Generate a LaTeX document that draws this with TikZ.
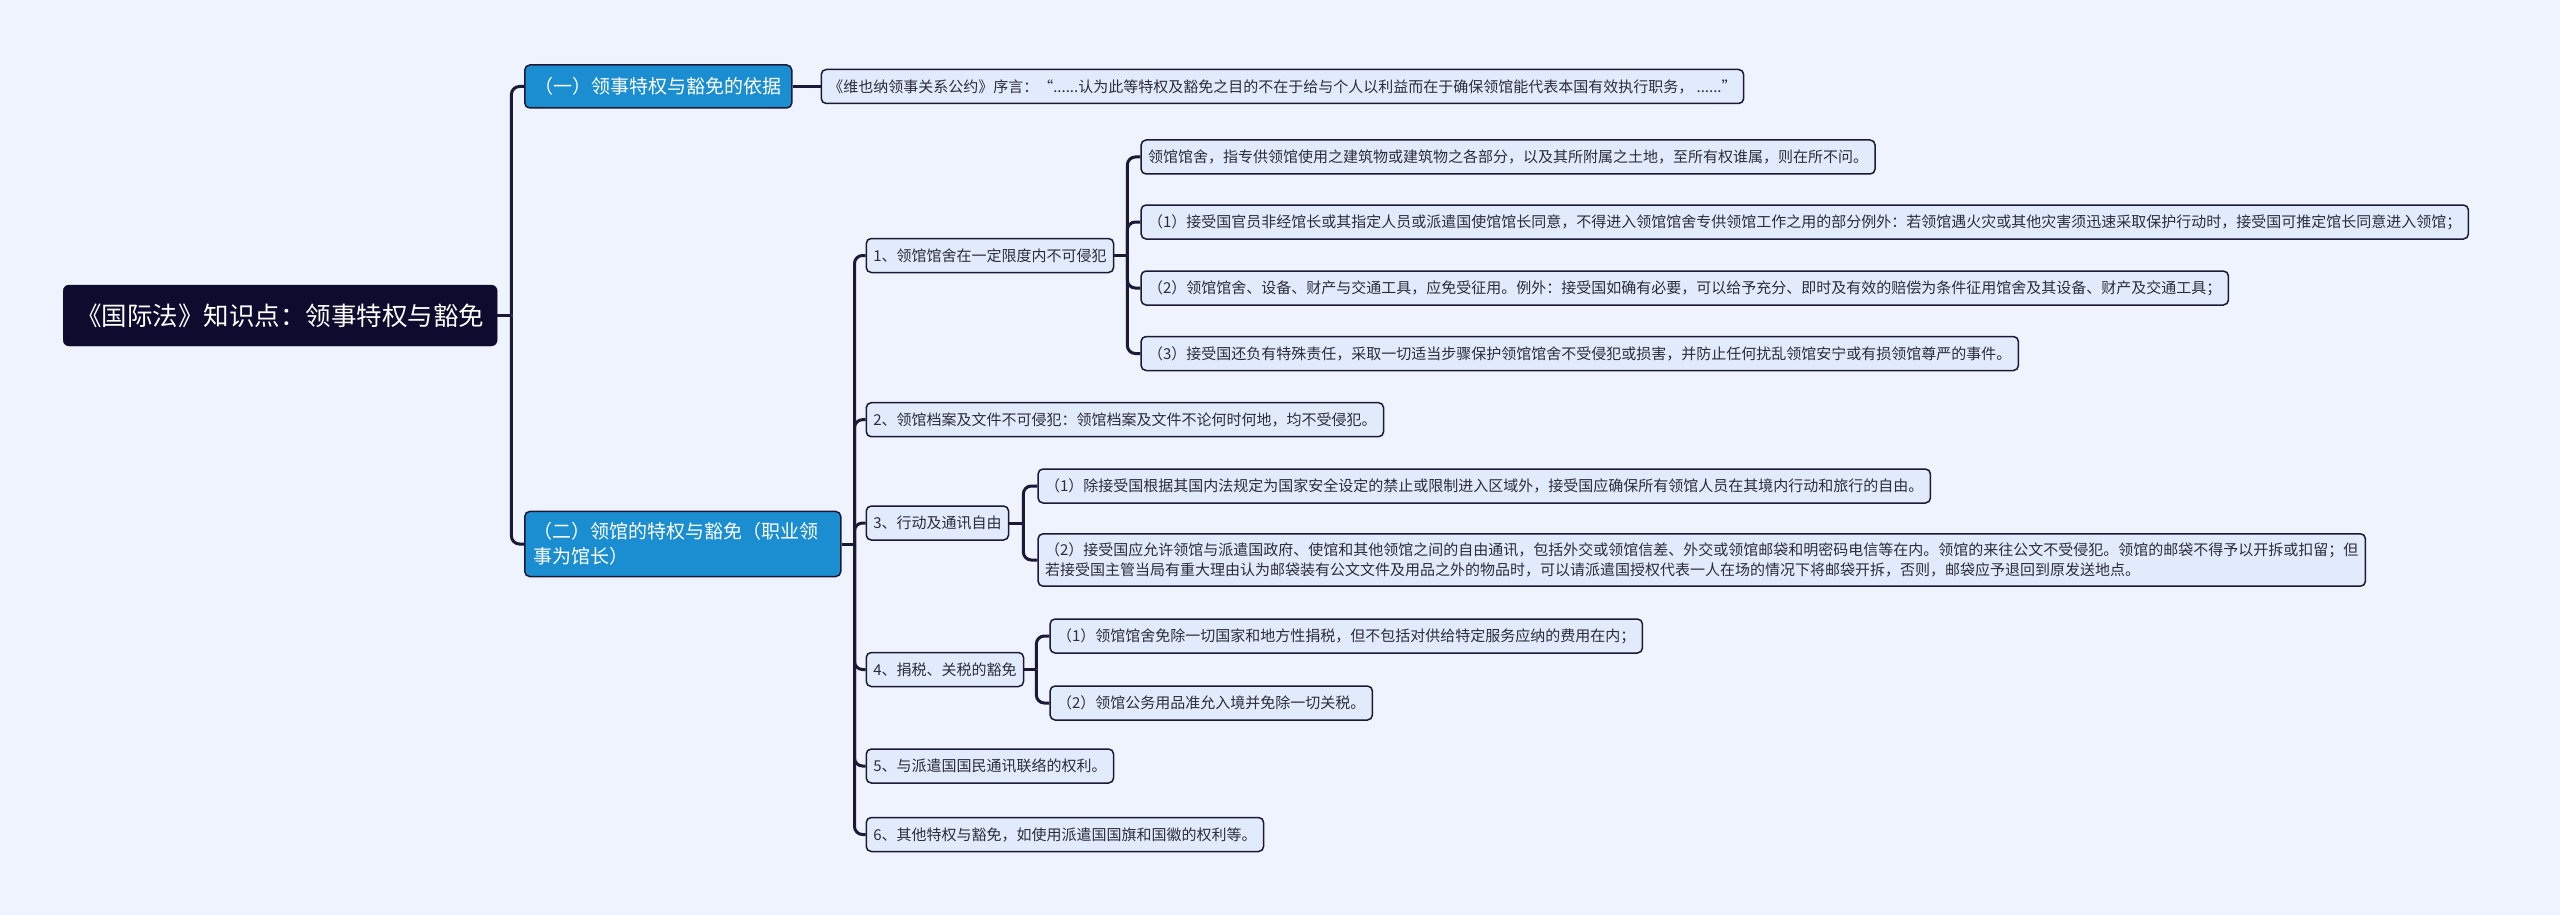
\documentclass[tikz,border=0pt]{standalone}
\usepackage{fontspec}
\setmainfont{Noto Sans CJK SC}
\definecolor{bgc}{HTML}{EEF3FD}
\definecolor{rootc}{HTML}{0E0B2E}
\definecolor{bluec}{HTML}{1B8ED1}
\definecolor{leafc}{HTML}{E2EBFB}
\definecolor{linec}{HTML}{1B1936}
\definecolor{textc}{HTML}{2C2C3C}
\tikzset{
  conn/.style={draw=linec, line width=3pt, rounded corners=8pt},
  rootbox/.style={fill=rootc, draw=rootc, rounded corners=6pt, text=white,
    font=\fontsize{25.5pt}{30pt}\selectfont, inner xsep=13pt, minimum height=61pt, anchor=west},
  lvlone/.style={fill=bluec, draw=linec, line width=1.5pt, rounded corners=5pt, text=white,
    font=\fontsize{19pt}{25pt}\selectfont, inner xsep=10pt, minimum height=43pt, anchor=west},
  leaf/.style={fill=leafc, draw=linec, line width=1.5pt, rounded corners=5pt, text=textc,
    font=\fontsize{15pt}{20pt}\selectfont, inner xsep=7pt, inner ysep=4pt, minimum height=34pt, anchor=west},
}
\begin{document}
\begin{tikzpicture}[x=1pt,y=1pt]
\useasboundingbox[fill=bgc] (0,0) rectangle (2560,-915);
% root
\node[rootbox] (root) at (63,-315.5) {《国际法》知识点：领事特权与豁免};
\node[lvlone] (a) at (524,-86.5) {（一）领事特权与豁免的依据};
\node[lvlone, align=left, text width=298pt, inner xsep=9pt, inner ysep=11pt] (b) at (524,-544) {（二）领馆的特权与豁免（职业领\\事为馆长）};
\coordinate (rj) at ([xshift=14pt]root.east);
\draw[conn] (root.east) -- (rj);
\draw[conn] (rj) |- (a.west);
\draw[conn] (rj) |- (b.west);
% A child
\node[leaf, xshift=28pt] (a1) at (a.east) {《维也纳领事关系公约》序言：“......认为此等特权及豁免之目的不在于给与个人以利益而在于确保领馆能代表本国有效执行职务， ......”};
\draw[conn] (a.east) -- (a1.west);
% B children
\node[leaf, xshift=24pt] (c1) at (b.east |- 0,-255.5) {1、领馆馆舍在一定限度内不可侵犯};
\node[leaf, xshift=24pt] (c2) at (b.east |- 0,-419.7) {2、领馆档案及文件不可侵犯：领馆档案及文件不论何时何地，均不受侵犯。};
\node[leaf, xshift=24pt] (c3) at (b.east |- 0,-523) {3、行动及通讯自由};
\node[leaf, xshift=24pt] (c4) at (b.east |- 0,-669.5) {4、捐税、关税的豁免};
\node[leaf, xshift=24pt] (c5) at (b.east |- 0,-766) {5、与派遣国国民通讯联络的权利。};
\node[leaf, xshift=24pt] (c6) at (b.east |- 0,-834.5) {6、其他特权与豁免，如使用派遣国国旗和国徽的权利等。};
\coordinate (bj) at ([xshift=13pt]b.east);
\draw[conn] (b.east) -- (bj);
\foreach \n in {c1,c2,c3,c4,c5,c6} \draw[conn] (bj) |- (\n.west);
% c1 children
\node[leaf, xshift=26pt] (d1) at (c1.east |- 0,-157) {领馆馆舍，指专供领馆使用之建筑物或建筑物之各部分，以及其所附属之土地，至所有权谁属，则在所不问。};
\node[leaf, xshift=26pt] (d2) at (c1.east |- 0,-222) {（1）接受国官员非经馆长或其指定人员或派遣国使馆馆长同意，不得进入领馆馆舍专供领馆工作之用的部分例外：若领馆遇火灾或其他灾害须迅速采取保护行动时，接受国可推定馆长同意进入领馆；};
\node[leaf, xshift=26pt] (d3) at (c1.east |- 0,-288) {（2）领馆馆舍、设备、财产与交通工具，应免受征用。例外：接受国如确有必要，可以给予充分、即时及有效的赔偿为条件征用馆舍及其设备、财产及交通工具；};
\node[leaf, xshift=26pt] (d4) at (c1.east |- 0,-353.5) {（3）接受国还负有特殊责任，采取一切适当步骤保护领馆馆舍不受侵犯或损害，并防止任何扰乱领馆安宁或有损领馆尊严的事件。};
\coordinate (c1j) at ([xshift=13pt]c1.east);
\draw[conn] (c1.east) -- (c1j);
\foreach \n in {d1,d2,d3,d4} \draw[conn] (c1j) |- (\n.west);
% c3 children
\node[leaf, xshift=28pt] (e1) at (c3.east |- 0,-486) {（1）除接受国根据其国内法规定为国家安全设定的禁止或限制进入区域外，接受国应确保所有领馆人员在其境内行动和旅行的自由。};
\node[leaf, xshift=28pt, align=left, inner ysep=9pt] (e2) at (c3.east |- 0,-560) {（2）接受国应允许领馆与派遣国政府、使馆和其他领馆之间的自由通讯，包括外交或领馆信差、外交或领馆邮袋和明密码电信等在内。领馆的来往公文不受侵犯。领馆的邮袋不得予以开拆或扣留；但\\若接受国主管当局有重大理由认为邮袋装有公文文件及用品之外的物品时，可以请派遣国授权代表一人在场的情况下将邮袋开拆，否则，邮袋应予退回到原发送地点。};
\coordinate (c3j) at ([xshift=14pt]c3.east);
\draw[conn] (c3.east) -- (c3j);
\foreach \n in {e1,e2} \draw[conn] (c3j) |- (\n.west);
% c4 children
\node[leaf, xshift=25pt] (f1) at (c4.east |- 0,-636) {（1）领馆馆舍免除一切国家和地方性捐税，但不包括对供给特定服务应纳的费用在内；};
\node[leaf, xshift=25pt] (f2) at (c4.east |- 0,-703) {（2）领馆公务用品准允入境并免除一切关税。};
\coordinate (c4j) at ([xshift=12pt]c4.east);
\draw[conn] (c4.east) -- (c4j);
\foreach \n in {f1,f2} \draw[conn] (c4j) |- (\n.west);
\end{tikzpicture}
\end{document}
